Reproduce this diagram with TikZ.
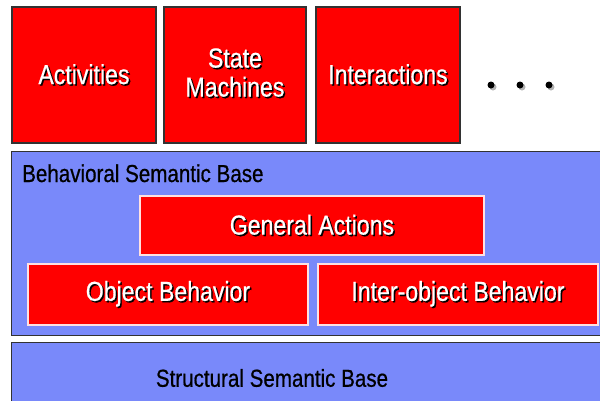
\documentclass[tikz,border=0pt]{standalone}
\usepackage{fontspec}
\setmainfont{Liberation Sans}[FakeStretch=0.84,FakeBold=0.6]
\definecolor{bred}{RGB}{255,0,0}
\definecolor{bblue}{RGB}{121,137,250}
\definecolor{bframe}{RGB}{50,50,50}
\definecolor{lframe}{RGB}{255,225,225}
\newcommand\shtxt[1]{\leavevmode\rlap{\hspace{1.5pt}\raisebox{-1.5pt}{\color{black}#1}}#1}
\newcommand\twol[2]{\begin{tabular}{@{}c@{}}#1\\[0pt]#2\end{tabular}}
\begin{document}
\begin{tikzpicture}[x=1pt,y=-1pt,
  topbox/.style={draw=bframe,line width=1.2pt,fill=bred,text=white,font=\fontsize{27.5}{29}\selectfont,inner sep=0pt},
  redbox/.style={draw=lframe,line width=1.2pt,fill=bred,text=white,font=\fontsize{27.5}{29}\selectfont,inner sep=0pt},
  basebox/.style={draw=bframe,line width=1.2pt,fill=bblue},
  lbl/.style={text=black,font=\fontsize{24.5}{26}\selectfont,inner sep=0pt},
  dotc/.style={fill=black,circle,inner sep=0pt,minimum size=7pt},
  dotsh/.style={fill=black!30,circle,inner sep=0pt,minimum size=7pt}]
\useasboundingbox (0,0) rectangle (600,400);
\clip (0,0) rectangle (600,400);
% top boxes
\node[topbox,minimum width=144pt,minimum height=136pt] (act) at (84,75) {\shtxt{Activities}};
\node[topbox,minimum width=142pt,minimum height=136pt] (sm) at (235,75) {};
\node[text=white,font=\fontsize{27.5}{29}\selectfont,inner sep=0pt] (smt) at (235,77) {\shtxt{\twol{State}{Machines}}};
\node[topbox,minimum width=144pt,minimum height=136pt] (int) at (388,75) {\shtxt{Interactions}};
% dots
\node[dotsh] (s1) at (493,87) {};
\node[dotsh] (s2) at (522,87) {};
\node[dotsh] (s3) at (551,87) {};
\node[dotc] (d1) at (491,85) {};
\node[dotc] (d2) at (520,85) {};
\node[dotc] (d3) at (549,85) {};
% behavioral base
\node[basebox,minimum width=594pt,minimum height=184pt,anchor=north west] (beh) at (11,151) {};
\node[lbl,anchor=base west] (behl) at (22,182) {Behavioral Semantic Base};
\node[redbox,minimum width=344pt,minimum height=59pt] (ga) at (312,225.5) {\shtxt{General Actions}};
\node[redbox,minimum width=280pt,minimum height=61pt] (ob) at (168,294.5) {\shtxt{Object Behavior}};
\node[redbox,minimum width=280pt,minimum height=61pt] (iob) at (458,294.5) {\shtxt{Inter-object Behavior}};
% structural base
\node[basebox,minimum width=600pt,minimum height=70pt,anchor=north west] (str) at (11,342) {};
\node[lbl] (strl) at (272,378) {Structural Semantic Base};
\end{tikzpicture}
\end{document}
